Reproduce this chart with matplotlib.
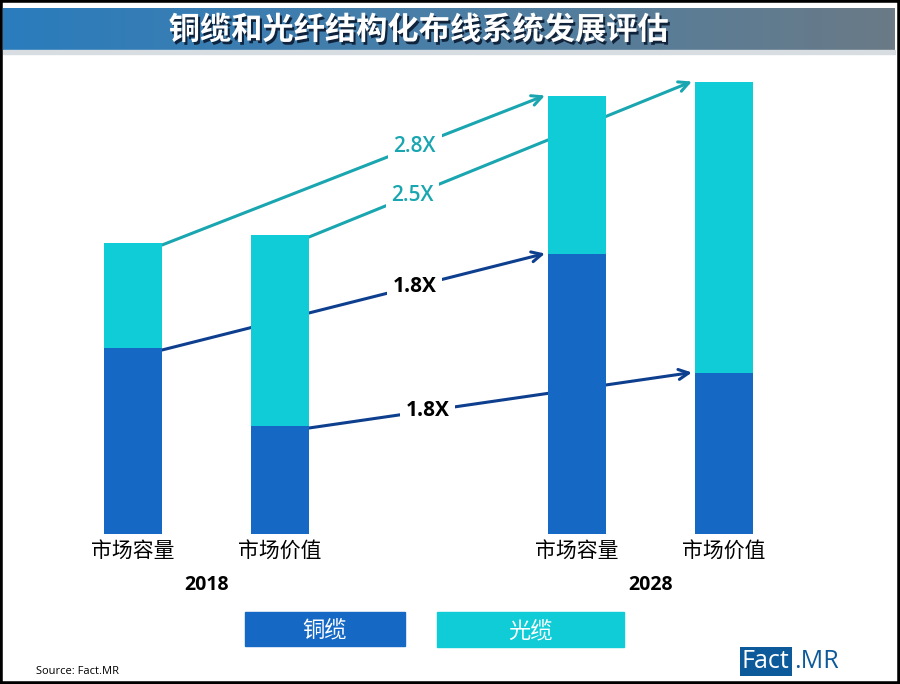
import numpy as np
import matplotlib.pyplot as plt
import matplotlib.patheffects as pe
from matplotlib.patches import Rectangle
from matplotlib.colors import LinearSegmentedColormap

plt.rcParams['font.family'] = ['Noto Sans CJK SC', 'DejaVu Sans']

# 数据 (从图中估计)
categories = ['市场容量', '市场价值', '市场容量', '市场价值']
years = ['2018', '2028']
copper = [18.6, 10.8, 28.0, 16.1]   # 铜缆
fiber = [10.5, 19.1, 15.8, 29.1]    # 光缆
growth_labels = ['2.8X', '2.5X', '1.8X', '1.8X']
title = '铜缆和光纤结构化布线系统发展评估'

c_copper = '#1569c4'
c_fiber = '#10ccd6'
c_arrow_fiber = '#1aa6b0'
c_arrow_copper = '#0e3f8e'

xpos = np.array([0, 1, 3.02, 4.02])
w = 0.395

fig = plt.figure(figsize=(9, 6.84), dpi=100)
ax = fig.add_axes([0, 0, 1, 1])
ax.set_xlim(-0.905, 5.218)
ax.set_ylim(-15, 53.4)
ax.axis('off')

total = np.array(copper) + np.array(fiber)
ax.bar(xpos, copper, w, color=c_copper, zorder=3)
ax.bar(xpos, fiber, w, bottom=copper, color=c_fiber, zorder=3)

# 箭头: 2018 -> 2028
pairs = [(0, 2, total, c_arrow_fiber, 0.66, False),
         (1, 3, total, c_arrow_fiber, 0.27, False),
         (0, 2, np.array(copper), c_arrow_copper, 0.66, True),
         (1, 3, np.array(copper), c_arrow_copper, 0.31, True)]
for (i, j, vals, col, t, bold), lab in zip(pairs, growth_labels):
    x0, y0 = xpos[i] + w / 2, vals[i] - 0.2
    x1, y1 = xpos[j] - w / 2 - 0.02, vals[j] + 0.05
    ax.annotate('', xy=(x1, y1), xytext=(x0, y0),
                arrowprops=dict(arrowstyle='->', color=col, lw=2.2,
                                mutation_scale=18, shrinkA=0, shrinkB=0),
                zorder=1)
    tx, ty = x0 + t * (x1 - x0), y0 + t * (y1 - y0)
    ax.text(tx, ty, lab, ha='center', va='center', fontsize=15,
            family=['Open Sans', 'DejaVu Sans'],
            fontweight='bold' if bold else 'semibold',
            color='black' if bold else c_arrow_fiber, zorder=2,
            bbox=dict(facecolor='white', edgecolor='none', pad=4))

for x, c in zip(xpos, categories):
    ax.text(x, -1.7, c, ha='center', va='center', fontsize=15)
for k, yr in enumerate(years):
    ax.text(xpos[2 * k:2 * k + 2].mean(), -5.1, yr, ha='center', va='center',
            fontsize=14, fontweight='bold', family=['Open Sans', 'DejaVu Sans'])

# 标题栏
grad = np.linspace(0, 1, 256)[None, :]
bax = fig.add_axes([3 / 900, 1 - 50 / 684, 892 / 900, 42 / 684])
cmap = LinearSegmentedColormap.from_list('ban', ['#2a7cbd', '#4b7fa6', '#6a7a86'])
bax.imshow(grad, aspect='auto', cmap=cmap, extent=[0, 1, 0, 1])
bax.axis('off')
bax.text(0.466, 0.47, title, ha='center', va='center', fontsize=22.5,
         fontweight='bold', color='white', transform=bax.transAxes,
         path_effects=[pe.SimplePatchShadow(offset=(1.5, -2), shadow_rgbFace='#0a1a30', alpha=0.9),
                       pe.Normal()])
fig.patches.append(Rectangle((3 / 900, 1 - 54 / 684), 892 / 900, 4 / 684,
                             transform=fig.transFigure, color='#d8dde2', zorder=0))

# 图例
fig.patches.append(Rectangle((245 / 900, 1 - 646 / 684), 160 / 900, 34 / 684,
                             transform=fig.transFigure, color=c_copper))
fig.patches.append(Rectangle((437 / 900, 1 - 647 / 684), 187 / 900, 35 / 684,
                             transform=fig.transFigure, color=c_fiber))
fig.text(325 / 900, 1 - 630 / 684, '铜缆', ha='center', va='center', fontsize=16, color='white')
fig.text(530 / 900, 1 - 631 / 684, '光缆', ha='center', va='center', fontsize=16, color='white')

fig.text(36 / 900, 1 - 671 / 684, 'Source: Fact.MR', fontsize=8, va='center',
         family=['Open Sans', 'DejaVu Sans'])
fig.text(742 / 900, 1 - 661 / 684, 'Fact', fontsize=18, va='center', color='white',
         family=['Open Sans', 'DejaVu Sans'],
         bbox=dict(facecolor='#0d5a9a', edgecolor='none', pad=1.5))
fig.text(794 / 900, 1 - 661 / 684, '.MR', fontsize=18, va='center', color='#0d5a9a',
         family=['Open Sans', 'DejaVu Sans'])

fig.patches.append(Rectangle((0, 0), 1, 1, transform=fig.transFigure, fill=False,
                             edgecolor='black', linewidth=4))

fig.savefig('out.png', dpi=100)
